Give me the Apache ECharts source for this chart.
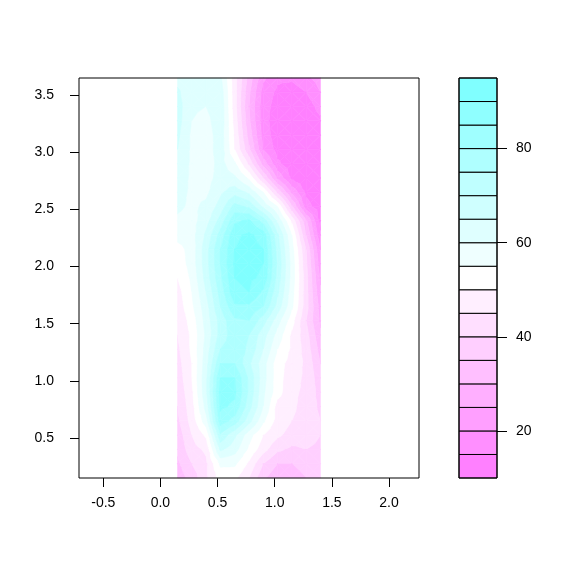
<!DOCTYPE html>
<html>
<head>
<meta charset="utf-8">
<script src="https://cdn.jsdelivr.net/npm/echarts@6/dist/echarts.min.js"></script>
<style>
html,body{margin:0;padding:0;background:#fff;}
#chart{width:576px;height:576px;}
</style>
</head>
<body>
<div id="chart"></div>
<script>
// Grid nodes (x: 0.15..1.4, y: 3.65..0.15, spacing 0.125)
const xNodes = [0.15, 0.275, 0.4, 0.525, 0.65, 0.775, 0.9, 1.025, 1.15, 1.275, 1.4];
const yNodes = [3.65, 3.525, 3.4, 3.275, 3.15, 3.025, 2.9, 2.775, 2.65, 2.525,
                2.4, 2.275, 2.15, 2.025, 1.9, 1.775, 1.65, 1.525, 1.4, 1.275,
                1.15, 1.025, 0.9, 0.775, 0.65, 0.525, 0.4, 0.275, 0.15];
// z at each node, rows from top (y=3.65) to bottom (y=0.15)
const zRows = [
  [63, 62, 61, 61, 47, 33, 21, 16, 16, 19, 22],
  [66, 61, 61, 63, 47, 31, 18, 14, 12, 15, 20],
  [67, 61, 60, 64, 47, 30, 17, 13, 11, 12, 17],
  [67, 60, 58, 64, 48, 31, 17, 12, 11, 11, 14],
  [66, 59, 57, 63, 49, 33, 18, 12, 11, 11, 12],
  [65, 59, 57, 63, 50, 36, 20, 13, 11, 11, 12],
  [64, 59, 57, 62, 56, 44, 28, 16, 12, 11, 11],
  [63, 59, 58, 62, 61, 54, 40, 24, 14, 11, 11],
  [62, 59, 59, 64, 68, 64, 55, 39, 24, 14, 11],
  [61, 59, 61, 67, 77, 74, 64, 55, 36, 17, 12],
  [59, 58, 63, 72, 84, 86, 78, 64, 49, 31, 13],
  [57, 58, 66, 77, 89, 91, 88, 71, 55, 35, 16],
  [53, 57, 68, 80, 90, 92, 90, 73, 57, 40, 20],
  [52, 57, 68, 80, 91, 92, 90, 74, 58, 41, 22],
  [50, 56, 67, 79, 90, 91, 89, 73, 58, 42, 24],
  [48, 55, 65, 77, 89, 90, 84, 71, 57, 42, 26],
  [47, 54, 63, 75, 84, 84, 80, 68, 56, 42, 28],
  [46, 52, 62, 72, 79, 80, 72, 62, 52, 40, 29],
  [45, 51, 61, 72, 78, 75, 67, 58, 49, 42, 31],
  [44, 51, 62, 75, 78, 74, 65, 55, 49, 43, 33],
  [43, 50, 63, 80, 80, 71, 62, 52, 48, 44, 35],
  [42, 50, 64, 85, 85, 74, 62, 52, 47, 44, 37],
  [41, 49, 64, 87, 86, 74, 61, 52, 46, 44, 38],
  [40, 48, 62, 86, 84, 72, 60, 48, 46, 43, 39],
  [39, 47, 58, 83, 78, 67, 56, 48, 45, 43, 40],
  [37, 45, 51, 74, 66, 57, 50, 46, 43, 42, 40],
  [36, 43, 46, 66, 62, 54, 47, 41, 39, 40, 39],
  [34, 40, 44, 56, 56, 49, 40, 35, 35, 38, 38],
  [32, 37, 44, 52, 51, 45, 36, 31, 31, 35, 37]
];
// contour levels and palette (low = magenta, high = cyan)
const levels = [10, 15, 20, 25, 30, 35, 40, 45, 50, 55, 60, 65, 70, 75, 80, 85, 90, 95];
const palette = ['#FF80FF', '#FF8FFF', '#FF9FFF', '#FFAFFF', '#FFBFFF', '#FFCFFF', '#FFDFFF', '#FFEFFF',
                 '#FFFFFF', '#EFFFFF', '#DFFFFF', '#CFFFFF', '#BFFFFF', '#AFFFFF', '#9FFFFF', '#8FFFFF', '#80FFFF'];
const xTicks = [-0.5, 0, 0.5, 1, 1.5, 2];
const yTicks = [0.5, 1, 1.5, 2, 2.5, 3, 3.5];
const keyTicks = [20, 40, 60, 80];

// one item per grid cell: corner coordinates and corner values
const cellData = [];
for (let j = 0; j < yNodes.length - 1; j++) {
  for (let i = 0; i < xNodes.length - 1; i++) {
    cellData.push([xNodes[i], yNodes[j], xNodes[i + 1], yNodes[j + 1],
                   zRows[j][i], zRows[j][i + 1], zRows[j + 1][i + 1], zRows[j + 1][i]]);
  }
}
const bandData = [];
for (let i = 0; i < levels.length - 1; i++) bandData.push([levels[i], levels[i + 1], i]);

function clip(poly, level, keepAbove) {
  const out = [];
  const n = poly.length;
  for (let i = 0; i < n; i++) {
    const a = poly[i], b = poly[(i + 1) % n];
    const ina = keepAbove ? a[2] >= level : a[2] <= level;
    const inb = keepAbove ? b[2] >= level : b[2] <= level;
    if (ina) out.push(a);
    if (ina !== inb) {
      const t = (level - a[2]) / (b[2] - a[2]);
      out.push([a[0] + t * (b[0] - a[0]), a[1] + t * (b[1] - a[1]), level]);
    }
  }
  return out;
}

function trianglesBands(tri, children) {
  const zs = tri.map(p => p[2]);
  const zmin = Math.min.apply(null, zs), zmax = Math.max.apply(null, zs);
  for (let k = 0; k < palette.length; k++) {
    const lo = levels[k], hi = levels[k + 1];
    if (zmax < lo || zmin > hi) continue;
    let poly = tri;
    if (k > 0) poly = clip(poly, lo, true);
    if (poly.length < 3) continue;
    if (k < palette.length - 1) poly = clip(poly, hi, false);
    if (poly.length < 3) continue;
    children.push({type: 'polygon', shape: {points: poly.map(p => [p[0], p[1]])},
                   style: {fill: palette[k], stroke: palette[k], lineWidth: 0.6}});
  }
}

const font = {fontFamily: 'Liberation Sans, Arial, sans-serif', fontSize: 14, color: '#000'};

const chart = echarts.init(document.getElementById('chart'), null, {renderer: 'canvas'});
chart.setOption({
  backgroundColor: '#fff',
  animation: false,
  grid: [
    {left: 79, top: 78, width: 340, height: 400, show: true, borderColor: '#000', borderWidth: 1, backgroundColor: 'transparent', z: 10},
    {left: 459, top: 78, width: 38, height: 400, show: true, borderColor: '#000', borderWidth: 1, backgroundColor: 'transparent', z: 10}
  ],
  xAxis: [
    {gridIndex: 0, type: 'value', min: -0.7125, max: 2.2625,
     splitLine: {show: false},
     axisLine: {show: false, onZero: false},
     axisTick: {show: true, length: 9, customValues: xTicks, lineStyle: {color: '#000'}},
     axisLabel: Object.assign({customValues: xTicks, margin: 18, formatter: v => v.toFixed(1)}, font)},
    {gridIndex: 1, type: 'value', min: 0, max: 1, show: false}
  ],
  yAxis: [
    {gridIndex: 0, type: 'value', min: 0.15, max: 3.65,
     splitLine: {show: false},
     axisLine: {show: false, onZero: false},
     axisTick: {show: true, length: 9, customValues: yTicks, lineStyle: {color: '#000'}},
     axisLabel: Object.assign({customValues: yTicks, margin: 25, formatter: v => v.toFixed(1)}, font)},
    {gridIndex: 1, type: 'value', min: 10, max: 95, position: 'right',
     splitLine: {show: false},
     axisLine: {show: false, onZero: false},
     axisTick: {show: true, length: 10, customValues: keyTicks, lineStyle: {color: '#000'}},
     axisLabel: Object.assign({customValues: keyTicks, margin: 19}, font)}
  ],
  series: [
    {
      type: 'custom', xAxisIndex: 0, yAxisIndex: 0, data: cellData,
      renderItem: function (params, api) {
        const xa = api.value(0), ya = api.value(1), xb = api.value(2), yb = api.value(3);
        const pa = api.coord([xa, ya]);
        const pb = api.coord([xb, yb]);
        const c00 = [pa[0], pa[1], api.value(4)];
        const c10 = [pb[0], pa[1], api.value(5)];
        const c11 = [pb[0], pb[1], api.value(6)];
        const c01 = [pa[0], pb[1], api.value(7)];
        const cen = [(pa[0] + pb[0]) / 2, (pa[1] + pb[1]) / 2,
                     (c00[2] + c10[2] + c11[2] + c01[2]) / 4];
        const children = [];
        trianglesBands([c00, c10, cen], children);
        trianglesBands([c10, c11, cen], children);
        trianglesBands([c11, c01, cen], children);
        trianglesBands([c01, c00, cen], children);
        return {type: 'group', children: children};
      }
    },
    {
      type: 'custom', xAxisIndex: 1, yAxisIndex: 1, data: bandData,
      renderItem: function (params, api) {
        const lo = api.value(0), hi = api.value(1), idx = api.value(2);
        const p1 = api.coord([0, hi]);
        const p2 = api.coord([1, lo]);
        return {type: 'rect', shape: {x: p1[0], y: p1[1], width: p2[0] - p1[0], height: p2[1] - p1[1]},
                style: {fill: palette[idx], stroke: '#000', lineWidth: 1}};
      }
    }
  ]
});
</script>
</body>
</html>
